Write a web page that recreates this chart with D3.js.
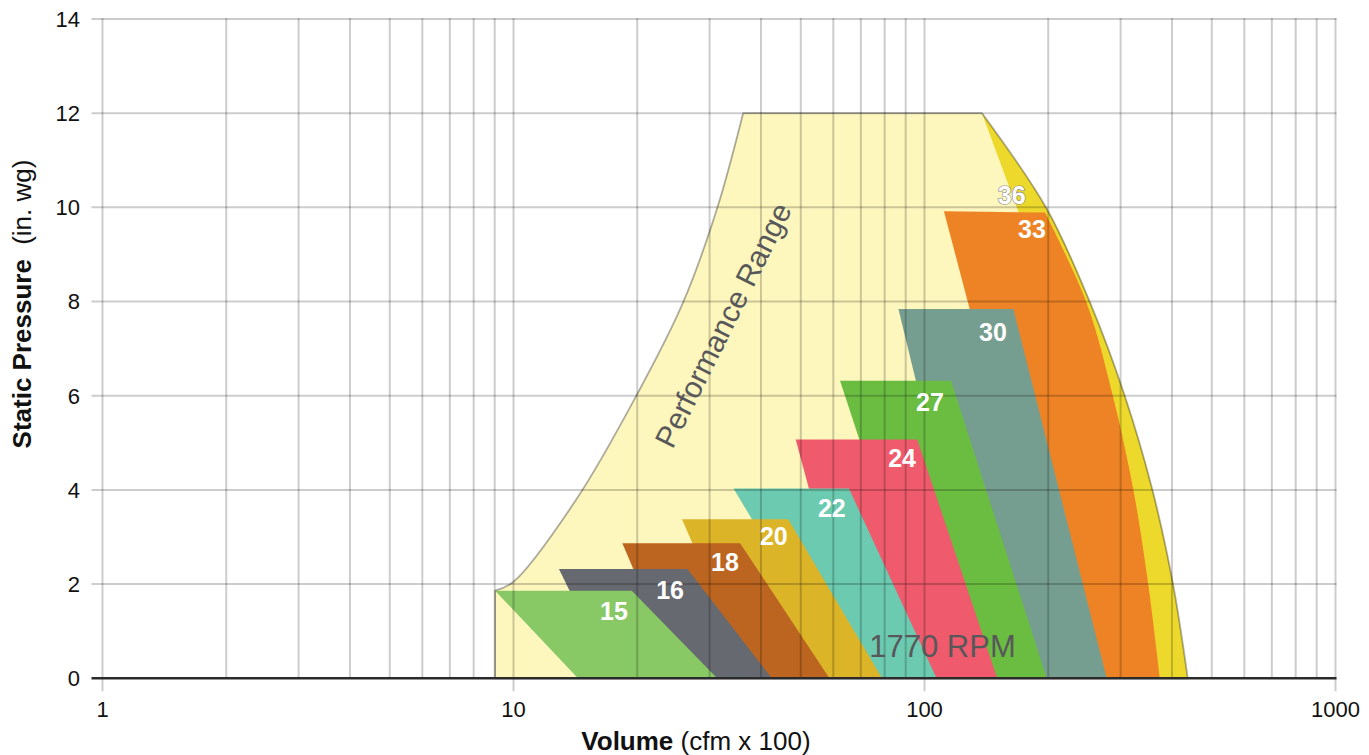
<!DOCTYPE html>
<html>
<head>
<meta charset="utf-8">
<script src="https://cdn.jsdelivr.net/npm/d3@7"></script>
<style>
  html, body { margin: 0; padding: 0; background: #fff; }
  svg { display: block; font-family: "Liberation Sans", Arial, Helvetica, sans-serif; }
</style>
</head>
<body>
<svg id="chart" width="1369" height="755"></svg>
<script>
// Axis ticks
const xTickLabels = [1, 10, 100, 1000];
const yTickValues = [0, 2, 4, 6, 8, 10, 12, 14];

// Performance range envelope: volume (cfm x 100), static pressure (in. wg)
const envelopeLeft  = [[9.02, 0], [9.02, 1.86], [10, 2.05], [14.2, 3.79], [19.9, 6.0], [25.8, 7.96], [31.3, 9.98], [36.2, 12]];
const envelopeRight = [[138, 12], [198, 9.98], [253, 7.97], [307, 6.0], [358, 4.02], [402, 2.02], [437, 0]];

// Fan sizes, drawn largest first so smaller fans sit on top
const fanSizes  = ["36", "33", "30", "27", "24", "22", "20", "18", "16", "15"];
const fanColors = ["#ecd92c", "#ee8326", "#769e90", "#6abd41", "#ef5a6c", "#6ccab0", "#dcb428", "#bc6520", "#676970", "#88c965"];

// Operating regions of each fan size: outline points (volume, pressure)
const fan36 = { straight: [[437, 0], [222, 0], [171, 9.8]], curve: envelopeRight };
const fan33 = { straight: [[374, 0], [222, 0], [111.5, 9.92]], curve: [[196.5, 9.89], [248, 7.97], [287, 6.01], [322, 4.02], [350, 2.02], [374, 0]] };
const fan30 = [[86.4, 7.84], [164.5, 7.84], [277.5, 0], [143, 0]];
const fan27 = [[62.3, 6.32], [116, 6.32], [198.3, 0], [107.8, 0]];
const fan24 = [[48.6, 5.07], [96.0, 5.07], [150.3, 0], [69.7, 0]];
const fan22 = [[34.3, 4.03], [65.5, 4.03], [107, 0], [64.9, 0]];
const fan20 = [[25.7, 3.38], [46.6, 3.38], [78.8, 0], [37.9, 0]];
const fan18 = [[18.4, 2.87], [35.6, 2.87], [58.7, 0], [25.4, 0]];
const fan16 = [[12.9, 2.32], [26.5, 2.32], [42.5, 0], [17.4, 0]];
const fan15 = [[9.02, 1.86], [19.4, 1.86], [31.3, 0], [14.35, 0]];
const fanShapes = [fan36, fan33, fan30, fan27, fan24, fan22, fan20, fan18, fan16, fan15];

// Where each size number sits (volume, pressure at text baseline)
const fanLabelAt = [[163, 10.07], [182.6, 9.35], [146.8, 7.17], [103.1, 5.68], [88.2, 4.48], [59.5, 3.42], [43.0, 2.83], [32.7, 2.28], [24.04, 1.68], [17.56, 1.24]];

const speedLabel = "1770 RPM";
const speedLabelAt = [73.4, 0.45];
const rangeLabel = "Performance Range";
const rangeLabelAt = [34.1, 7.40];

const svg = d3.select("#chart");

const x = d3.scaleLog().domain([1, 1000]).range([102.5, 1335.5]);
const y = d3.scaleLinear().domain([0, 14]).range([678.3, 19]);

const smooth = d3.line().x(d => x(d[0])).y(d => y(d[1])).curve(d3.curveCatmullRom.alpha(0.5));
const px = d => [x(d[0]), y(d[1])];

// Continue a path with a smooth curve through pts (first point already reached)
function curveTail(pts) {
  const s = smooth(pts);
  return "L" + s.slice(1);
}

// Envelope outline
function envelopePath() {
  const p0 = px(envelopeLeft[0]);
  let d = "M" + p0[0] + "," + p0[1];
  const p1 = px(envelopeLeft[1]);
  d += "L" + p1[0] + "," + p1[1];
  d += curveTail(envelopeLeft.slice(1));
  d += curveTail(envelopeRight);
  return d + "Z";
}

function fanPath(shape) {
  if (Array.isArray(shape)) {
    return "M" + shape.map(p => px(p).join(",")).join("L") + "Z";
  }
  let d = curveTail(shape.curve).replace(/^L/, "M");
  shape.straight.forEach(p => { d += "L" + px(p).join(","); });
  return d + "Z";
}

// Envelope fill
svg.append("path")
  .attr("d", envelopePath())
  .attr("fill", "#fdf6bd");

// Fan regions
svg.append("g").selectAll("path")
  .data(fanShapes)
  .join("path")
  .attr("d", d => fanPath(d))
  .attr("fill", (d, i) => fanColors[i]);

// Grid overlay
const grid = svg.append("g").attr("stroke", "rgba(0,0,0,0.2)").attr("stroke-width", 2);
grid.selectAll("line.h")
  .data(yTickValues.filter(v => v > 0))
  .join("line")
  .attr("class", "h")
  .attr("x1", 91.5).attr("x2", x(1000) + 1)
  .attr("y1", d => y(d)).attr("y2", d => y(d));
grid.selectAll("line.v")
  .data(x.ticks())
  .join("line")
  .attr("class", "v")
  .attr("x1", d => x(d)).attr("x2", d => x(d))
  .attr("y1", y(14) - 1)
  .attr("y2", d => xTickLabels.includes(d) ? y(0) + 13 : y(0));

// Envelope outline on top
svg.append("path")
  .attr("d", envelopePath())
  .attr("fill", "none")
  .attr("stroke", "rgba(0,0,0,0.32)")
  .attr("stroke-width", 1.8)
  .attr("stroke-linejoin", "round");

// Zero line
svg.append("line")
  .attr("x1", 91.5).attr("x2", x(1000) + 1)
  .attr("y1", y(0)).attr("y2", y(0))
  .attr("stroke", "#2b2b2b").attr("stroke-width", 2.4);

// Tick labels
svg.append("g").selectAll("text")
  .data(yTickValues)
  .join("text")
  .attr("x", 80).attr("y", d => y(d))
  .attr("dy", "0.36em")
  .attr("text-anchor", "end")
  .attr("font-size", 22)
  .attr("fill", "#111")
  .text(d => d);

svg.append("g").selectAll("text")
  .data(xTickLabels)
  .join("text")
  .attr("x", d => x(d)).attr("y", 717)
  .attr("text-anchor", "middle")
  .attr("font-size", 22)
  .attr("fill", "#111")
  .text(d => d);

// Axis titles
const xt = svg.append("text")
  .attr("x", 696).attr("y", 750)
  .attr("text-anchor", "middle")
  .attr("font-size", 26)
  .attr("fill", "#111");
xt.append("tspan").attr("font-weight", "bold").text("Volume");
xt.append("tspan").attr("dx", "0.28em").text("(cfm x 100)");

const yt = svg.append("text")
  .attr("transform", "translate(31,304) rotate(-90)")
  .attr("text-anchor", "middle")
  .attr("font-size", 26)
  .attr("fill", "#111");
yt.append("tspan").attr("font-weight", "bold").text("Static Pressure");
yt.append("tspan").attr("dx", "0.55em").text("(in. wg)");

// Size numbers
svg.append("g").selectAll("text")
  .data(fanSizes)
  .join("text")
  .attr("x", (d, i) => x(fanLabelAt[i][0]))
  .attr("y", (d, i) => y(fanLabelAt[i][1]))
  .attr("text-anchor", "middle")
  .attr("font-size", 25)
  .attr("font-weight", "bold")
  .attr("fill", "#fff")
  .attr("stroke", d => d === "36" ? "#8a8a8a" : "none")
  .attr("stroke-width", d => d === "36" ? 1.2 : 0)
  .attr("paint-order", "stroke")
  .text(d => d);

// Annotations
svg.append("text")
  .attr("x", x(speedLabelAt[0])).attr("y", y(speedLabelAt[1]))
  .attr("font-size", 31)
  .attr("fill", "#58585b")
  .text(speedLabel);

svg.append("text")
  .attr("transform", `translate(${x(rangeLabelAt[0])},${y(rangeLabelAt[1])}) rotate(-63.5)`)
  .attr("text-anchor", "middle")
  .attr("font-size", 30)
  .attr("fill", "#58585b")
  .text(rangeLabel);
</script>
</body>
</html>
